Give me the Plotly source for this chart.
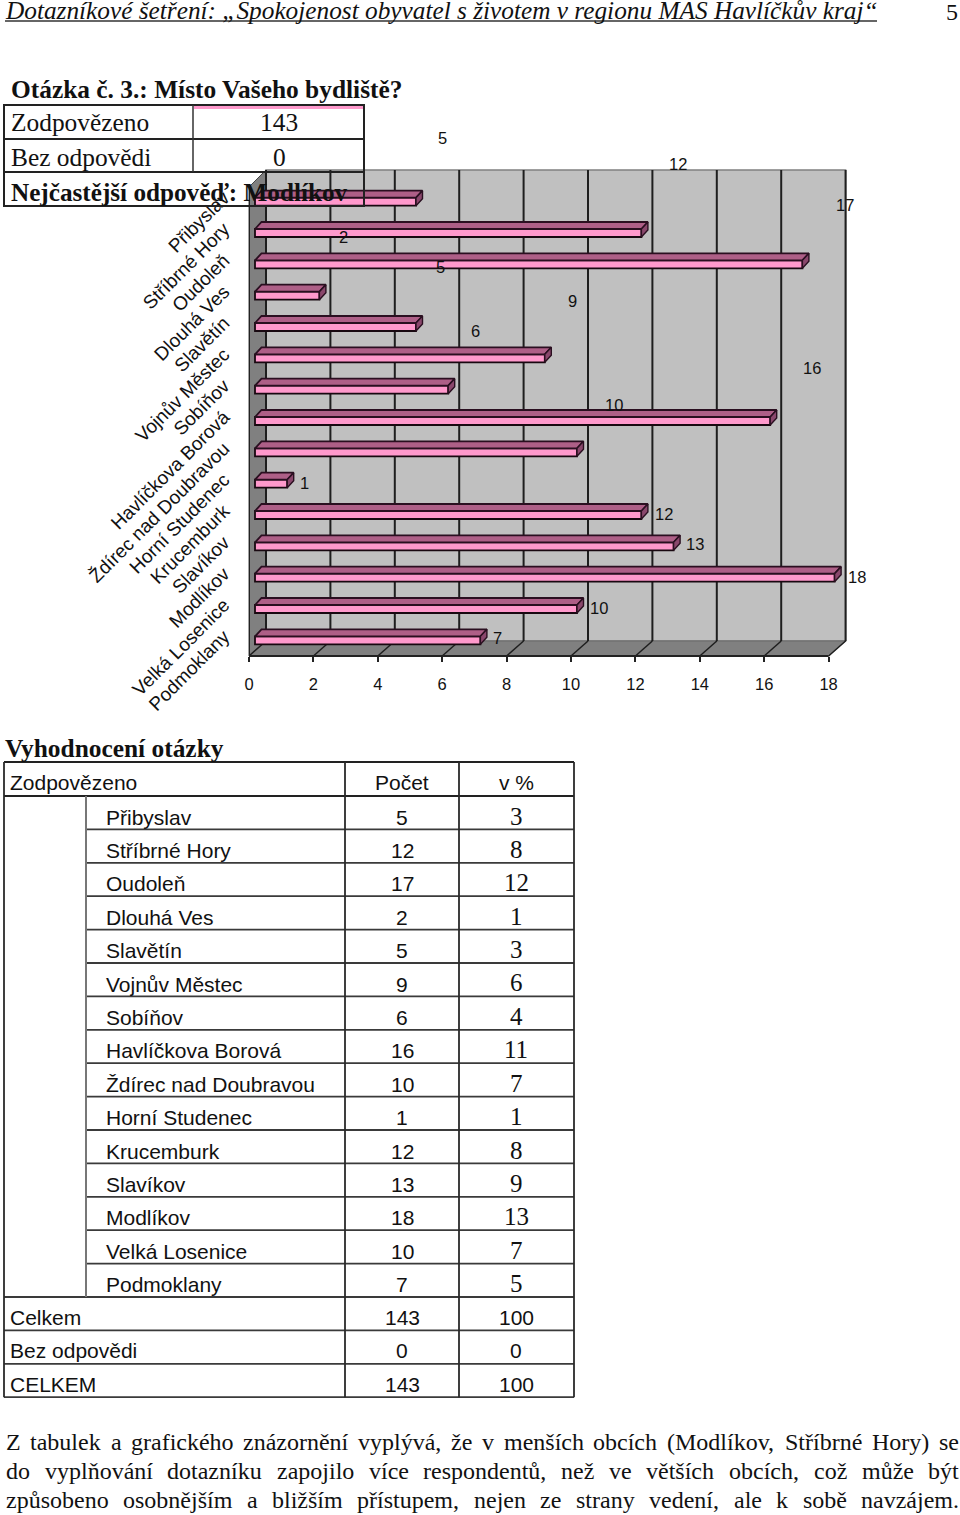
import plotly.graph_objects as go

categories = ["Přibyslav", "Stříbrné Hory", "Oudoleň", "Dlouhá Ves", "Slavětín", "Vojnův Městec", "Sobíňov",
              "Havlíčkova Borová", "Ždírec nad Doubravou", "Horní Studenec", "Krucemburk", "Slavíkov",
              "Modlíkov", "Velká Losenice", "Podmoklany"]
counts = [5, 12, 17, 2, 5, 9, 6, 16, 10, 1, 12, 13, 18, 10, 7]
percents = [3, 8, 12, 1, 3, 6, 4, 11, 7, 1, 8, 9, 13, 7, 5]
x_ticks = [0, 2, 4, 6, 8, 10, 12, 14, 16, 18]
summary_rows = [("Celkem", 143, 100), ("Bez odpovědi", 0, 0), ("CELKEM", 143, 100)]
answered = 143
unanswered = 0

# layout constants (pixels on the 960x1515 page)
W, H = 960, 1515
X0, UNIT = 249, 32.2
PLOT_R = 852
Y_T, Y_B = 186, 656
DEPTH = 17
label_dx = [26, 37, 43, 24, 24, 28, 27, 42, 37, 17, 23, 21, 22, 22, 17]
label_dy = [64, 69, 59, 59, 60, 57, 59, 53, 47, 1, 1, 2, 1, 1, 2]

PINK, TOPC, SIDE = "#FF99CC", "#AE5F87", "#8A476C"
WALL, SHADE, GRID = "#C0C0C0", "#808080", "#1E1E1E"
SERIF, SANS = "Liberation Serif", "Liberation Sans"


def px(x):
    return x / W


def py(y):
    return 1 - y / H


unit_y = (Y_B - Y_T) / len(categories)
base = 6 / UNIT
bar_h = 8 / unit_y
dx = 6.5 / UNIT
dy = 7 / unit_y

top_x, top_y, side_x, side_y = [], [], [], []
for i, v in enumerate(counts):
    t = i - bar_h / 2
    b = i + bar_h / 2
    e = base + v
    top_x += [base, e, e + dx, base + dx, base, None]
    top_y += [t, t, t - dy, t - dy, t, None]
    side_x += [e, e + dx, e + dx, e, e, None]
    side_y += [t, t - dy, b - dy, b, t, None]

fig = go.Figure()
fig.add_trace(go.Bar(y=list(range(len(categories))), x=counts, base=base, orientation="h", width=bar_h,
                     marker=dict(color=PINK, line=dict(color="#180810", width=1.8)), hoverinfo="skip"))
fig.add_trace(go.Scatter(x=top_x, y=top_y, mode="lines", fill="toself", fillcolor=TOPC,
                         line=dict(color="#2A0F20", width=1.8), hoverinfo="skip"))
fig.add_trace(go.Scatter(x=side_x, y=side_y, mode="lines", fill="toself", fillcolor=SIDE,
                         line=dict(color="#2A0F20", width=1.4), hoverinfo="skip"))

shapes = []
anns = []


def line(x0, y0, x1, y1, color="#222222", width=2):
    shapes.append(dict(type="line", xref="paper", yref="paper", x0=px(x0), x1=px(x1), y0=py(y0), y1=py(y1),
                       line=dict(color=color, width=width), layer="above"))


def poly(pts, fill, lc="#222222", lw=1.5):
    p = "M" + " L".join(f"{px(a):.5f},{py(b):.5f}" for a, b in pts) + " Z"
    shapes.append(dict(type="path", xref="paper", yref="paper", path=p, fillcolor=fill,
                       line=dict(color=lc, width=lw), layer="below"))


def text(x, y, s, size, family=SANS, anchor="left", bold=False, italic=False):
    if bold:
        s = f"<b>{s}</b>"
    if italic:
        s = f"<i>{s}</i>"
    if anchor == "left":
        x -= 1
    anns.append(dict(xref="paper", yref="paper", x=px(x), y=py(y), text=s, showarrow=False, xanchor=anchor,
                     yanchor="middle", borderpad=0, font=dict(family=family, size=size, color="#111111")))


# chart walls
fx = X0 + 18 * UNIT
bx = X0 + DEPTH + 18 * UNIT
wy = 170
fy = Y_B - 15
poly([(X0 + DEPTH, wy), (bx, wy), (bx, fy), (X0 + DEPTH, fy)], WALL, "#808080", 1.5)
poly([(X0, Y_T + 1), (X0 + DEPTH, wy), (X0 + DEPTH, fy), (X0, Y_B)], SHADE, "#444444", 1)
poly([(X0, Y_B), (X0 + DEPTH, fy), (bx, fy), (fx, Y_B)], SHADE, "#6A6A6A", 1)
for v in x_ticks:
    shapes.append(dict(type="line", xref="x", xsizemode="pixel", xanchor=v, x0=DEPTH, x1=DEPTH, yref="paper",
                       y0=py(wy), y1=py(fy), line=dict(color=GRID, width=2), layer="below"))
    shapes.append(dict(type="line", xref="x", xsizemode="pixel", xanchor=v, x0=0, x1=DEPTH, yref="paper",
                       y0=py(Y_B), y1=py(fy), line=dict(color=GRID, width=1.5), layer="below"))
for k in range(len(categories)):
    yy = Y_B - k * 31.57
    shapes.append(dict(type="line", xref="x", xsizemode="pixel", xanchor=0, x0=-5, x1=0, yref="paper",
                       y0=py(yy), y1=py(yy), line=dict(color="#222222", width=2), layer="below"))
shapes.append(dict(type="line", xref="x", x0=0, x1=18, yref="paper", y0=py(Y_B), y1=py(Y_B),
                   line=dict(color="#222222", width=2), layer="above"))
shapes.append(dict(type="line", xref="x", x0=0, x1=0, yref="paper", y0=py(Y_T), y1=py(Y_B),
                   line=dict(color="#222222", width=2), layer="above"))

# value labels
for i, v in enumerate(counts):
    anns.append(dict(xref="x", yref="y", x=base + v, y=i, text=str(v), showarrow=False, xshift=label_dx[i],
                     yshift=label_dy[i], font=dict(family=SANS, size=16.5, color="#111111"), borderpad=0))

# page header
text(5, 10, "Dotazníkové šetření: „Spokojenost obyvatel s životem v regionu MAS Havlíčkův kraj“", 25.3, SERIF, italic=True)
line(5, 21, 877, 21, "#333333", 1.6)
text(946, 12, "5", 24, SERIF)
text(11, 89, "Otázka č. 3.: Místo Vašeho bydliště?", 25.4, SERIF, bold=True)

# top table
shapes.append(dict(type="rect", xref="paper", yref="paper", x0=px(194), x1=px(364), y0=py(109), y1=py(105),
                   fillcolor=PINK, line=dict(width=0), layer="above"))
for yy in (105, 139, 172, 206):
    line(4, yy, 364, yy, "#222222", 2)
for xx in (4, 364):
    line(xx, 104, xx, 207, "#222222", 2)
line(193, 105, 193, 172, "#333333", 1.5)
text(11, 122, "Zodpovězeno", 25.4, SERIF)
text(279, 122, str(answered), 25.4, SERIF, "center")
text(11, 157, "Bez odpovědi", 25.4, SERIF)
text(279, 157, str(unanswered), 25.4, SERIF, "center")
text(11, 192, "Nejčastější odpověď: Modlíkov", 25.2, SERIF, bold=True)

# bottom table
text(5, 748, "Vyhodnocení otázky", 25.4, SERIF, bold=True)
ROW0, ROW = 796, 33.4
nrows = len(categories) + len(summary_rows)
row_line = lambda r: ROW0 + ROW * r
line(4, 762, 574, 762)
line(4, ROW0, 574, ROW0)
for r in range(1, nrows + 1):
    x_from = 86 if r < len(categories) else 4
    line(x_from, row_line(r), 574, row_line(r), "#3A3A3A", 1.8)
bottom = row_line(nrows)
for xx in (4, 345, 459, 574):
    line(xx, 762, xx, bottom, "#2A2A2A", 1.8)
line(86, ROW0, 86, row_line(len(categories)), "#777777", 2)
text(10, 782, "Zodpovězeno", 21)
text(402, 782, "Počet", 21, anchor="center")
text(516, 782, "v %", 21, anchor="center")
for i, c in enumerate(categories):
    y = ROW0 + ROW * i + 21
    text(106, y, c, 21)
    text(402, y, str(counts[i]), 21, anchor="center")
    text(516, y - 1, str(percents[i]), 25, SERIF, "center")
for j, (name, n, p) in enumerate(summary_rows):
    y = ROW0 + ROW * (len(categories) + j) + 20.5
    text(10, y, name, 21)
    text(402, y, str(n), 21, anchor="center")
    text(516, y, str(p), 21, anchor="center")

# justified paragraph
AFM = dict(a=444, b=500, c=444, d=500, e=444, f=333, g=500, h=500, i=278, j=278, k=500, l=278, m=778, n=500,
           o=500, p=500, q=500, r=333, s=389, t=278, u=500, v=500, w=722, x=500, y=500, z=444,
           Z=611, M=889, S=556, H=722)
AFM.update({"(": 333, ")": 333, ",": 250, ".": 250})
AFM.update({"á": 444, "č": 444, "ě": 444, "é": 444, "í": 278, "ň": 500, "ů": 500, "ř": 333, "š": 389, "ž": 444, "ý": 500})
para = ["Z tabulek a grafického znázornění vyplývá, že v menších obcích (Modlíkov, Stříbrné Hory) se",
        "do vyplňování dotazníku zapojilo více respondentů, než ve větších obcích, což může být",
        "způsobeno osobnějším a bližším přístupem, nejen ze strany vedení, ale k sobě navzájem."]
FS = 24
for ln, yy in zip(para, (1441.5, 1470.5, 1499.5)):
    words = ln.split(" ")
    ws = [sum(AFM.get(ch, 500) for ch in w) * FS / 1000 for w in words]
    gap = (958 - 5 - sum(ws)) / (len(words) - 1)
    x = 5
    for w, wd in zip(words, ws):
        text(x + 1, yy, w, FS, SERIF)
        x += wd + gap

fig.update_layout(
    width=W, height=H, margin=dict(l=0, r=0, t=0, b=0, autoexpand=False), paper_bgcolor="white",
    plot_bgcolor="rgba(0,0,0,0)", showlegend=False, shapes=shapes, annotations=anns, barmode="overlay",
    xaxis=dict(domain=[px(X0), px(PLOT_R)], range=[0, (PLOT_R - X0) / UNIT], tickmode="array", tickvals=x_ticks,
               showgrid=False, zeroline=False, showline=False, ticks="outside", ticklen=5, tickwidth=2,
               tickcolor="#222222", ticklabelstandoff=8, tickfont=dict(family=SANS, size=16.5, color="#111111"),
               anchor="y", automargin=False),
    yaxis=dict(domain=[py(Y_B), py(Y_T)], range=[len(categories) - 0.5, -0.5], tickmode="array",
               tickvals=[i - 0.2 for i in range(len(categories))], ticktext=categories, tickangle=-45, showgrid=False,
               zeroline=False, showline=False, ticks="", ticklabelstandoff=24,
               tickfont=dict(family=SANS, size=19, color="#111111"), anchor="x", automargin=False),
)
fig.write_html("out.html", config=dict(displayModeBar=False),
               post_script="document.body.style.margin='0';document.documentElement.style.overflow='hidden';")
